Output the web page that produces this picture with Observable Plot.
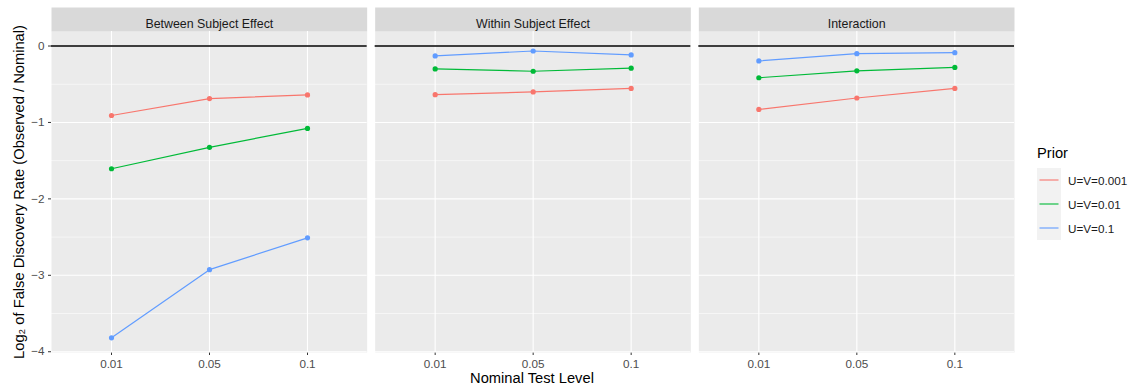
<!DOCTYPE html>
<html><head><meta charset="utf-8">
<script src="https://cdn.jsdelivr.net/npm/d3@7"></script>
<script src="https://cdn.jsdelivr.net/npm/@observablehq/plot@0.6"></script>
<style>
body{margin:0;background:#fff;font-family:"Liberation Sans",Arial,Helvetica,sans-serif;}
#wrap{position:relative;width:1135px;height:392px;overflow:hidden;background:#fff;}
#chart svg{position:absolute;left:0;top:0;}
#xtitle{position:absolute;left:332px;width:400px;top:370px;text-align:center;font-size:14.7px;color:#000;line-height:16px;}
#legend{position:absolute;left:1037px;top:145px;}
#legend .ttl{font-size:14.7px;color:#000;height:23px;line-height:17px;}
#legend .row{display:flex;align-items:center;height:24px;}
#legend .key{width:24px;height:24px;background:#F2F2F2;}
#legend .lab{font-size:11.7px;color:#1A1A1A;margin-left:7px;}
g[aria-label$="tick"] path, g[aria-label$="tick"] line{stroke:#333333;}
g[aria-label="y-axis label"] text{font-size:14.7px;fill:#000;}
</style></head><body>
<div id="wrap"><div id="chart"></div><div id="xtitle">Nominal Test Level</div><div id="legend"></div></div>
<script>
const levels = ["0.01", "0.05", "0.1"];
const effects = ["Between Subject Effect", "Within Subject Effect", "Interaction"];
const priors = ["U=V=0.001", "U=V=0.01", "U=V=0.1"];
const priorColors = ["#F8766D", "#00BA38", "#619CFF"];
const yMajor = [-4, -3, -2, -1, 0];
const yMinor = [-3.5, -2.5, -1.5, -0.5];

const between001 = [-0.909, -0.688, -0.640];
const between01  = [-1.606, -1.325, -1.078];
const between1   = [-3.818, -2.926, -2.510];
const within001  = [-0.636, -0.600, -0.555];
const within01   = [-0.300, -0.330, -0.290];
const within1    = [-0.130, -0.065, -0.117];
const inter001   = [-0.830, -0.680, -0.555];
const inter01    = [-0.415, -0.325, -0.280];
const inter1     = [-0.195, -0.100, -0.087];

const seriesTable = [
  [effects[0], priors[0], between001], [effects[0], priors[1], between01], [effects[0], priors[2], between1],
  [effects[1], priors[0], within001],  [effects[1], priors[1], within01],  [effects[1], priors[2], within1],
  [effects[2], priors[0], inter001],   [effects[2], priors[1], inter01],   [effects[2], priors[2], inter1]
];
const rows = seriesTable.flatMap(([effect, prior, vals]) =>
  vals.map((v, i) => ({effect, prior, level: levels[i], value: v})));

const W = 1020, H = 392, mT = 31, mB = 40, mL = 51, mR = 6;
const panelH = H - mT - mB;
const stripH = 24;

const chart = Plot.plot({
  width: W, height: H,
  marginTop: mT, marginBottom: mB, marginLeft: mL, marginRight: mR,
  style: {fontFamily: '"Liberation Sans", Arial, Helvetica, sans-serif', fontSize: "11.7px", color: "#4D4D4D", background: "transparent"},
  fx: {domain: effects, axis: null, paddingInner: 8 / 323.67, paddingOuter: 0, round: false},
  x: {type: "point", domain: levels, padding: 0.6, label: null, tickSize: 3, tickPadding: 4},
  y: {domain: [-4.01, 0.19], ticks: 5, tickSize: 3, tickPadding: 4,
      label: "Log\u2082 of False Discovery Rate (Observed / Nominal)", labelAnchor: "center", labelOffset: 38, labelArrow: "none"},
  color: {domain: priors, range: priorColors},
  marks: [
    Plot.frame({fill: "#EBEBEB", stroke: "none"}),
    Plot.frame({fill: "#D9D9D9", stroke: "none", insetTop: -stripH, insetBottom: panelH}),
    Plot.ruleY(yMinor, {stroke: "white", strokeWidth: 0.55}),
    Plot.ruleY(yMajor, {stroke: "white", strokeWidth: 1.1}),
    Plot.ruleX(levels, {stroke: "white", strokeWidth: 1.1}),
    Plot.ruleY([0], {stroke: "black", strokeWidth: 1.3}),
    Plot.line(rows, {fx: "effect", x: "level", y: "value", z: "prior", stroke: "prior", strokeWidth: 1.2}),
    Plot.dot(rows, {fx: "effect", x: "level", y: "value", fill: "prior", r: 2.6}),
    Plot.text(effects, {fx: d => d, text: d => d, frameAnchor: "top", dy: -12, fill: "#1A1A1A", fontSize: 12.4})
  ]
});
document.getElementById("chart").appendChild(chart);

const leg = document.getElementById("legend");
const t = document.createElement("div"); t.className = "ttl"; t.textContent = "Prior"; leg.appendChild(t);
priors.forEach((p, i) => {
  const row = document.createElement("div"); row.className = "row";
  row.innerHTML = `<div class="key"><svg width="24" height="24"><line x1="2.5" x2="21.5" y1="12" y2="12" stroke="${priorColors[i]}" stroke-width="1.1"/></svg></div><div class="lab">${p}</div>`;
  leg.appendChild(row);
});
</script>
</body></html>
